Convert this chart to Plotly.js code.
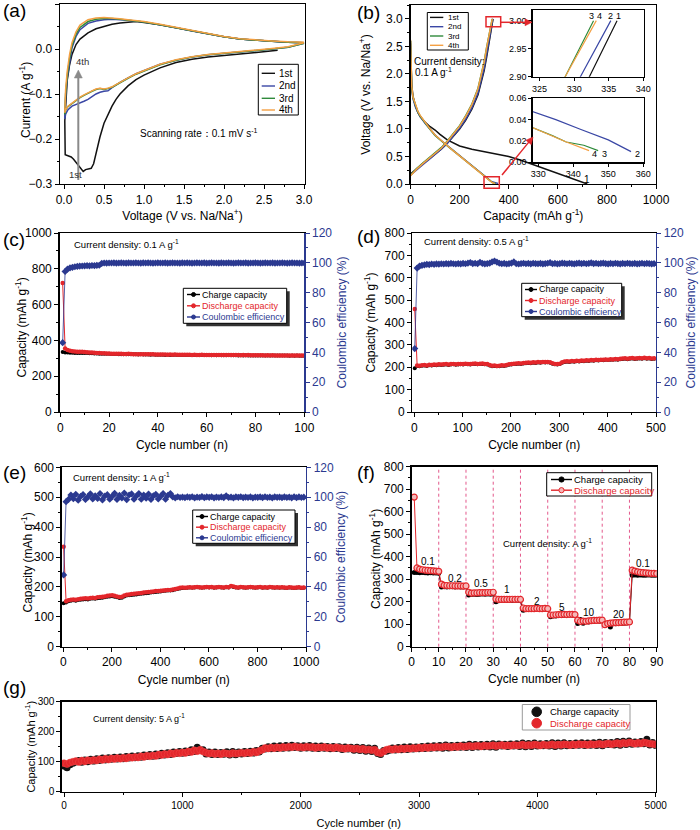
<!DOCTYPE html>
<html><head><meta charset="utf-8">
<script src="https://cdn.plot.ly/plotly-3.0.1.min.js"></script>
<style>html,body{margin:0;padding:0;background:#fff}#chart{width:700px;height:830px}</style>
</head><body><div id="chart"></div>
<script>
// ================= DATA =================
// (a) cyclic voltammetry
const cvNames = ['1st', '2nd', '3rd', '4th'];
const cvV1 = [2.67, 2.5, 2.2, 2.0, 1.8, 1.6, 1.4, 1.2, 1.1, 1.0, 0.9, 0.8, 0.7, 0.65, 0.6, 0.55, 0.5, 0.45, 0.4, 0.37, 0.34, 0.3, 0.27, 0.24, 0.21, 0.18, 0.15, 0.12, 0.09, 0.06, 0.03, 0.015, 0.01, 0.02, 0.04, 0.07, 0.1, 0.15, 0.2, 0.3, 0.4, 0.5, 0.6, 0.7, 0.8, 0.9, 1.0, 1.2, 1.4, 1.6, 1.8, 2.0, 2.2, 2.4, 2.6, 2.8, 3.0];
const cvI1 = [-0.003, -0.006, -0.01, -0.014, -0.018, -0.023, -0.03, -0.042, -0.05, -0.058, -0.068, -0.082, -0.1, -0.112, -0.127, -0.145, -0.165, -0.195, -0.23, -0.255, -0.265, -0.266, -0.268, -0.272, -0.265, -0.258, -0.252, -0.245, -0.24, -0.238, -0.237, -0.235, -0.16, -0.12, -0.07, -0.035, -0.012, 0.01, 0.022, 0.036, 0.045, 0.05, 0.055, 0.058, 0.06, 0.061, 0.059, 0.054, 0.047, 0.04, 0.033, 0.027, 0.022, 0.019, 0.017, 0.015, 0.014];
const cvV = [3.0, 2.8, 2.6, 2.4, 2.2, 2.0, 1.8, 1.6, 1.4, 1.2, 1.0, 0.9, 0.8, 0.7, 0.6, 0.55, 0.5, 0.45, 0.4, 0.35, 0.3, 0.25, 0.2, 0.15, 0.1, 0.05, 0.02, 0.01, 0.02, 0.04, 0.07, 0.1, 0.15, 0.2, 0.3, 0.4, 0.5, 0.6, 0.7, 0.8, 1.0, 1.2, 1.4, 1.6, 1.8, 2.0, 2.2, 2.4, 2.6, 2.8, 3.0];
const cvI2 = [0.013, 0.004, 0.0, -0.003, -0.006, -0.009, -0.013, -0.018, -0.025, -0.034, -0.047, -0.055, -0.064, -0.074, -0.086, -0.093, -0.094, -0.096, -0.1, -0.107, -0.112, -0.116, -0.12, -0.123, -0.127, -0.135, -0.145, -0.155, -0.11, -0.065, -0.025, 0.003, 0.028, 0.043, 0.057, 0.062, 0.065, 0.066, 0.065, 0.064, 0.06, 0.054, 0.047, 0.04, 0.033, 0.027, 0.022, 0.019, 0.017, 0.015, 0.014];
const cvI3 = [0.013, 0.004, 0.0, -0.003, -0.006, -0.009, -0.013, -0.018, -0.025, -0.035, -0.048, -0.056, -0.065, -0.075, -0.085, -0.088, -0.09, -0.088, -0.09, -0.094, -0.098, -0.103, -0.108, -0.114, -0.12, -0.128, -0.136, -0.145, -0.1, -0.06, -0.02, 0.008, 0.033, 0.048, 0.061, 0.066, 0.068, 0.068, 0.066, 0.064, 0.06, 0.054, 0.047, 0.04, 0.033, 0.027, 0.022, 0.019, 0.017, 0.015, 0.014];
const cvI4 = [0.014, 0.005, 0.001, -0.002, -0.005, -0.008, -0.012, -0.017, -0.024, -0.034, -0.047, -0.055, -0.064, -0.074, -0.084, -0.087, -0.089, -0.087, -0.089, -0.093, -0.097, -0.102, -0.107, -0.113, -0.119, -0.127, -0.135, -0.142, -0.09, -0.05, -0.012, 0.014, 0.038, 0.053, 0.065, 0.069, 0.07, 0.069, 0.067, 0.065, 0.061, 0.055, 0.048, 0.041, 0.034, 0.028, 0.023, 0.02, 0.018, 0.016, 0.015];

// (b) galvanostatic discharge / charge profiles
const disCap1 = [0, 2, 5, 10, 20, 30, 40, 60, 80, 100, 120, 150, 200, 250, 300, 350, 400, 450, 500, 550, 600, 650, 700, 720];
const disV1 = [2.6, 2.1, 1.8, 1.6, 1.42, 1.3, 1.22, 1.12, 1.04, 0.98, 0.9, 0.8, 0.69, 0.63, 0.59, 0.55, 0.5, 0.43, 0.35, 0.27, 0.19, 0.11, 0.04, 0.0];
const disCap2 = [0, 2, 5, 10, 20, 30, 40, 60, 80, 100, 125, 150, 175, 200, 225, 250, 275, 300, 315, 328, 335, 342, 350, 356.5];
const disV2 = [2.55, 2.0, 1.72, 1.55, 1.4, 1.3, 1.22, 1.1, 0.99, 0.89, 0.79, 0.70, 0.61, 0.53, 0.44, 0.35, 0.26, 0.17, 0.1, 0.048, 0.04, 0.031, 0.021, 0.01];
const disCap3 = [0, 2, 5, 10, 20, 30, 40, 60, 80, 100, 125, 150, 175, 200, 225, 250, 275, 300, 315, 328, 334, 338, 343, 347.1];
const disV3 = [2.6, 2.05, 1.75, 1.57, 1.42, 1.31, 1.23, 1.1, 0.99, 0.88, 0.78, 0.69, 0.6, 0.51, 0.42, 0.33, 0.24, 0.15, 0.085, 0.033, 0.025, 0.019, 0.016, 0.011];
const disCap4 = [0, 2, 5, 10, 20, 30, 40, 60, 80, 100, 125, 150, 175, 200, 225, 250, 275, 300, 315, 328, 333, 338, 344.5];
const disV4 = [2.62, 2.1, 1.78, 1.58, 1.43, 1.32, 1.24, 1.11, 1.0, 0.89, 0.79, 0.70, 0.6, 0.51, 0.42, 0.33, 0.24, 0.15, 0.085, 0.033, 0.026, 0.019, 0.011];
const chCap1 = [0, 10, 25, 50, 75, 100, 125, 150, 175, 200, 225, 250, 275, 290, 300, 310, 320, 332.2, 336.2];
const chV1 = [0.18, 0.22, 0.28, 0.37, 0.45, 0.54, 0.63, 0.74, 0.86, 1.0, 1.16, 1.36, 1.62, 1.86, 2.06, 2.3, 2.58, 2.9, 3.0];
const chCap2 = [0, 10, 25, 50, 75, 100, 125, 150, 175, 200, 225, 250, 275, 290, 300, 310, 320, 330.9, 335.3];
const chV2 = [0.16, 0.2, 0.26, 0.35, 0.44, 0.53, 0.63, 0.74, 0.87, 1.01, 1.18, 1.38, 1.65, 1.9, 2.1, 2.35, 2.62, 2.9, 3.0];
const chCap3 = [0, 10, 25, 50, 75, 100, 125, 150, 175, 200, 225, 250, 275, 290, 300, 310, 320, 328.7, 332.8];
const chV3 = [0.16, 0.21, 0.28, 0.38, 0.47, 0.56, 0.66, 0.78, 0.91, 1.06, 1.24, 1.45, 1.74, 2.0, 2.22, 2.48, 2.74, 2.9, 3.0];
const chCap4 = [0, 10, 25, 50, 75, 100, 125, 150, 175, 200, 225, 250, 275, 290, 300, 310, 320, 328.7, 333.2];
const chV4 = [0.15, 0.2, 0.27, 0.37, 0.46, 0.55, 0.65, 0.77, 0.9, 1.05, 1.23, 1.44, 1.73, 1.99, 2.21, 2.47, 2.73, 2.9, 3.0];

// (c) 0.1 A/g, cycles 1..100
const cCharge = [335, 333, 332, 331, 331, 330, 330, 329, 330, 329,
  329, 328, 328, 327, 327, 326, 326, 325, 325, 325,
  324, 324, 324, 323, 323, 323, 322, 323, 322, 322,
  322, 321, 322, 321, 321, 321, 320, 321, 320, 320,
  320, 320, 319, 320, 319, 319, 320, 319, 319, 319,
  319, 318, 319, 318, 318, 319, 318, 318, 318, 318,
  318, 317, 318, 317, 318, 317, 317, 317, 318, 317,
  317, 317, 316, 317, 316, 317, 316, 316, 316, 316,
  316, 316, 315, 316, 316, 315, 316, 315, 315, 315,
  315, 315, 315, 314, 315, 314, 315, 314, 314, 314];
const cDischarge = [720, 355, 346, 342, 340, 338, 337, 336, 336, 335,
  334, 333, 332, 331, 330, 329, 328, 328, 327, 327,
  326, 326, 325, 325, 325, 324, 324, 325, 324, 323,
  323, 323, 323, 322, 322, 322, 322, 322, 321, 321,
  321, 321, 321, 320, 321, 320, 321, 320, 320, 320,
  320, 320, 320, 319, 320, 319, 319, 320, 319, 319,
  319, 319, 318, 319, 319, 318, 319, 318, 318, 318,
  318, 318, 318, 317, 318, 317, 318, 317, 317, 317,
  317, 317, 317, 316, 317, 316, 317, 316, 316, 316,
  316, 316, 316, 315, 316, 315, 316, 315, 315, 315];
const cCE = [46.5, 94.2, 95.8, 96.6, 97.0, 97.4, 97.6, 97.8, 97.9, 98.0,
  98.1, 98.0, 98.2, 98.1, 98.3, 98.4, 99.6, 99.9, 99.8, 99.9,
  99.9, 100.0, 99.8, 99.9, 100.0, 99.9, 99.8, 100.0, 99.9, 99.9,
  100.0, 99.9, 99.8, 100.0, 99.9, 100.0, 99.9, 99.8, 99.9, 100.0,
  99.9, 99.9, 100.0, 99.8, 99.9, 100.0, 99.9, 99.9, 99.8, 100.0,
  99.9, 100.0, 99.9, 99.8, 99.9, 100.0, 99.9, 99.9, 100.0, 99.8,
  99.9, 100.0, 99.9, 99.9, 99.8, 100.0, 99.9, 99.9, 100.0, 99.9,
  99.8, 99.9, 100.0, 99.9, 99.9, 100.0, 99.8, 99.9, 99.9, 100.0,
  99.9, 99.8, 99.9, 100.0, 99.9, 99.9, 100.0, 99.8, 99.9, 99.9,
  100.0, 99.9, 99.8, 99.9, 100.0, 99.9, 99.9, 99.8, 99.9, 99.9];

// (d) 0.5 A/g, every 5th cycle from cycle 1
const dCharge = [196, 206, 205, 207, 208, 206, 209, 208, 210, 209,
  211, 210, 211, 212, 210, 212, 213, 211, 212, 213,
  212, 214, 213, 212, 214, 215, 213, 214, 215, 213,
  212, 208, 205, 206, 204, 205, 207, 206, 208, 211,
  212, 214, 215, 216, 215, 217, 218, 219, 218, 220,
  219, 221, 220, 222, 221, 222, 220, 216, 213, 212,
  214, 220, 224, 225, 224, 226, 225, 227, 226, 228,
  227, 229, 228, 230, 229, 231, 230, 232, 231, 233,
  232, 234, 233, 235, 234, 236, 237, 238, 236, 238,
  239, 237, 238, 239, 238, 240, 238, 239, 237, 238];
const dDischarge = [460, 208, 207, 209, 210, 208, 211, 210, 212, 211,
  213, 212, 213, 214, 212, 214, 215, 213, 214, 215,
  214, 216, 215, 214, 216, 217, 215, 216, 217, 215,
  214, 210, 207, 208, 206, 207, 209, 208, 210, 213,
  214, 216, 217, 218, 217, 219, 220, 221, 220, 222,
  221, 223, 222, 224, 223, 224, 222, 218, 215, 214,
  216, 222, 226, 227, 226, 228, 227, 229, 228, 230,
  229, 231, 230, 232, 231, 233, 232, 234, 233, 235,
  234, 236, 235, 237, 236, 238, 239, 240, 238, 240,
  241, 239, 240, 241, 240, 242, 240, 241, 239, 240];
const dCE = [42.5, 96.5, 97.8, 98.3, 98.6, 99.0, 98.8, 99.2, 99.0, 99.3,
  99.1, 99.4, 99.2, 99.5, 99.3, 99.6, 99.4, 99.2, 99.5, 99.3,
  99.6, 99.4, 99.8, 100.2, 99.5, 99.7, 99.4, 100.4, 99.6, 99.3,
  99.5, 99.8, 100.6, 101.2, 100.5, 99.7, 99.4, 99.6, 99.2, 99.5,
  99.8, 100.6, 99.4, 99.2, 99.5, 99.7, 99.4, 99.6, 99.3, 99.7,
  99.5, 99.4, 99.6, 99.3, 99.5, 99.7, 100.1, 99.4, 99.6, 99.3,
  99.5, 99.8, 99.6, 99.4, 99.7, 99.5, 99.3, 99.6, 99.8, 99.5,
  99.7, 99.4, 99.6, 100.0, 99.5, 99.7, 99.4, 99.6, 99.8, 99.5,
  99.3, 99.6, 99.4, 99.7, 99.5, 99.3, 99.6, 99.4, 99.7, 99.5,
  99.4, 99.6, 99.3, 99.5, 99.7, 99.4, 99.6, 99.5, 99.3, 99.5];

// (e) 1 A/g, every 10th cycle from cycle 1
const eCharge = [145, 148, 152, 154, 155, 154, 156, 157, 158, 159,
  158, 160, 161, 160, 162, 163, 164, 165, 167, 168,
  169, 167, 165, 163, 164, 168, 171, 172, 173, 174,
  175, 176, 177, 178, 179, 180, 181, 182, 183, 184,
  185, 186, 187, 188, 188, 189, 191, 193, 195, 196,
  196, 197, 198, 197, 198, 199, 198, 197, 198, 199,
  198, 199, 197, 198, 199, 198, 197, 199, 198, 202,
  200, 198, 197, 199, 198, 197, 198, 199, 198, 197,
  198, 199, 197, 198, 197, 199, 198, 197, 198, 197,
  198, 197, 196, 198, 197, 196, 197, 198, 196, 197];
const eDischarge = [334, 152, 155, 157, 158, 157, 159, 160, 161, 162,
  161, 163, 164, 163, 165, 166, 167, 168, 170, 171,
  172, 170, 168, 166, 167, 171, 174, 175, 176, 177,
  178, 179, 180, 181, 182, 183, 184, 185, 186, 186,
  187, 188, 189, 190, 190, 191, 193, 195, 197, 198,
  197, 198, 199, 198, 199, 200, 199, 198, 199, 200,
  199, 200, 198, 199, 200, 199, 198, 200, 199, 203,
  201, 199, 198, 200, 199, 198, 199, 200, 199, 198,
  199, 200, 198, 199, 198, 200, 199, 198, 199, 198,
  199, 198, 197, 199, 198, 197, 198, 199, 197, 198];
const eCE = [48, 97, 98.5, 101.5, 99, 102, 98, 100.5, 101.8, 98.5,
  100.2, 102.3, 98.8, 101, 99.2, 102.5, 98.2, 100.8, 101.7, 98.6,
  100.5, 102.6, 98.5, 101.2, 99.5, 102.8, 98.3, 101.5, 102.2, 98.7,
  100.8, 102.4, 98.6, 101.4, 99.3, 102.1, 98.5, 100.9, 101.9, 98.8,
  100.6, 102.5, 98.7, 101.3, 102.4, 100.2, 99.6, 100.3, 99.8, 100.1,
  99.7, 100.2, 99.9, 100.3, 99.6, 100.1, 99.8, 100.4, 99.7, 100.2,
  99.9, 100.3, 99.6, 100.1, 99.8, 100.2, 99.7, 100.9, 99.8, 100.1,
  99.6, 100.2, 99.9, 100.3, 99.7, 100.1, 99.8, 100.2, 99.6, 100.1,
  99.9, 100.2, 99.7, 100.3, 99.8, 100.1, 99.6, 100.2, 99.9, 100.1,
  99.7, 100.2, 99.8, 100.1, 99.6, 100.3, 99.7, 100.2, 99.8, 100.0];

// (f) rate capability, cycles 1..90
const rateLabels = ['0.1', '0.2', '0.5', '1', '2', '5', '10', '20', '0.1'];
const rateBounds = [10, 20, 30, 40, 50, 60, 70, 80];
const fCharge = [330, 330, 329, 330, 329, 328, 329, 328, 328, 327,
  265, 266, 265, 266, 266, 265, 266, 265, 265, 266,
  230, 232, 233, 232, 233, 234, 233, 234, 233, 234,
  200, 204, 205, 205, 205, 206, 205, 206, 206, 205,
  162, 166, 166, 167, 166, 167, 167, 166, 167, 167,
  133, 136, 137, 140, 139, 140, 140, 141, 140, 140,
  103, 121, 104, 115, 110, 114, 112, 116, 113, 115,
  95, 103, 88, 104, 102, 104, 103, 104, 105, 106,
  318, 319, 318, 319, 318, 318, 319, 318, 318, 318];
const fDischarge = [665, 350, 345, 342, 340, 339, 338, 337, 336, 335,
  278, 273, 272, 271, 271, 270, 270, 270, 269, 270,
  242, 238, 239, 239, 240, 240, 240, 241, 241, 242,
  212, 210, 210, 210, 210, 210, 211, 210, 211, 210,
  172, 169, 169, 169, 169, 170, 169, 169, 170, 169,
  141, 141, 142, 143, 143, 144, 143, 144, 144, 143,
  118, 112, 114, 113, 115, 116, 117, 117, 118, 118,
  98, 103, 105, 106, 107, 107, 108, 109, 109, 110,
  340, 336, 333, 330, 329, 328, 327, 326, 326, 325];

// (g) 5 A/g, every 25th cycle from 0 to 5000
const gCharge = [85, 80, 90, 95, 99, 104, 98, 106, 100, 108,
  102, 110, 104, 112, 106, 113, 108, 115, 109, 116,
  110, 117, 112, 119, 113, 120, 115, 122, 117, 124,
  118, 126, 120, 128, 122, 130, 124, 132, 127, 134,
  128, 136, 131, 140, 134, 148, 137, 140, 126, 132,
  124, 132, 124, 131, 125, 133, 122, 134, 123, 132,
  126, 134, 127, 135, 129, 137, 132, 145, 142, 150,
  143, 152, 144, 153, 145, 154, 146, 155, 147, 153,
  145, 153, 146, 154, 145, 152, 144, 152, 145, 151,
  143, 151, 144, 150, 141, 149, 142, 148, 138, 148,
  137, 147, 135, 146, 134, 145, 127, 124, 137, 135,
  138, 146, 139, 147, 140, 149, 141, 150, 142, 149,
  143, 151, 144, 152, 145, 153, 146, 154, 145, 156,
  146, 154, 147, 155, 148, 156, 147, 158, 147, 157,
  149, 157, 150, 158, 149, 160, 148, 159, 152, 158,
  151, 159, 152, 160, 151, 162, 150, 161, 151, 162,
  152, 160, 153, 161, 152, 163, 151, 162, 152, 163,
  153, 161, 154, 162, 155, 163, 154, 162, 155, 163,
  154, 165, 153, 164, 157, 164, 156, 167, 155, 168,
  157, 169, 158, 166, 159, 167, 160, 175, 156, 164,
  154];
const gDischarge = [95, 92, 97, 100, 102, 99, 104, 101, 105, 103,
  106, 104, 108, 106, 110, 107, 111, 109, 112, 110,
  113, 111, 115, 113, 116, 114, 118, 116, 120, 118,
  121, 119, 124, 122, 126, 124, 128, 126, 130, 128,
  131, 129, 134, 132, 138, 135, 140, 134, 130, 127,
  129, 126, 128, 125, 129, 127, 126, 129, 127, 128,
  130, 128, 131, 129, 133, 131, 136, 140, 146, 144,
  147, 145, 148, 146, 149, 147, 150, 148, 151, 148,
  149, 147, 150, 148, 149, 146, 148, 147, 149, 146,
  147, 145, 148, 146, 145, 143, 146, 144, 142, 144,
  141, 143, 139, 141, 138, 140, 131, 128, 134, 140,
  142, 140, 143, 141, 144, 142, 145, 143, 146, 144,
  147, 145, 148, 146, 149, 147, 150, 148, 149, 151,
  150, 148, 151, 149, 152, 150, 151, 153, 151, 152,
  153, 151, 154, 152, 153, 155, 152, 154, 156, 153,
  155, 153, 156, 154, 155, 157, 154, 156, 155, 157,
  156, 154, 157, 155, 156, 158, 155, 157, 156, 158,
  157, 155, 158, 156, 159, 157, 158, 156, 159, 157,
  158, 160, 157, 159, 161, 158, 160, 162, 159, 163,
  161, 164, 162, 160, 163, 161, 164, 162, 160, 159,
  158];

// ================= STYLE / HELPERS =================
const W = 700, H = 830;
const px = v => v / W;
const py = v => 1 - v / H;
const FONT = 'Liberation Sans, Arial, sans-serif';
const RED = '#E3262B', NAVY = '#2B3990', PINK = '#F6B7B7';
const cvColors = ['#111111', '#3A47A5', '#2F8A3B', '#F4A043'];

function axis(o) {
  const c = o.color || '#000';
  const a = {
    domain: o.domain, range: o.range, anchor: o.anchor,
    showline: true, linecolor: c, linewidth: 1.3,
    mirror: o.mirror === undefined ? true : o.mirror,
    ticks: 'outside', ticklen: o.ticklen || 4, tickwidth: 1, tickcolor: c,
    tickmode: 'linear', tick0: o.tick0 || 0, dtick: o.dtick,
    tickfont: {family: FONT, size: o.fs || 12, color: c},
    showgrid: false, zeroline: false, fixedrange: true
  };
  if (o.title) {
    a.title = {text: o.title, font: {family: FONT, size: o.tfs || 12, color: c}};
    if (o.standoff !== undefined) a.title.standoff = o.standoff;
  }
  if (o.minor) a.minor = {dtick: o.minor, tick0: o.tick0 || 0, ticks: 'outside', ticklen: 2, tickwidth: 1, tickcolor: c};
  if (o.tickformat) a.tickformat = o.tickformat;
  if (o.side) a.side = o.side;
  if (o.overlaying) a.overlaying = o.overlaying;
  return a;
}

const ann = [];
const shp = [];
function txt(text, x, y, o = {}) {
  ann.push({
    xref: o.xref || 'paper', yref: o.yref || 'paper',
    x: o.xref ? x : px(x), y: o.yref ? y : py(y),
    text: text, showarrow: false, xanchor: o.xanchor || 'left', yanchor: 'middle', borderpad: 0,
    textangle: o.angle || 0,
    font: {family: FONT, size: o.size || 10, color: o.color || '#000'}
  });
}
function legendBox(box, rows, o) {
  const [x0, y0, x1, y1] = box;
  if (o.shadow) shp.push({type: 'rect', xref: 'paper', yref: 'paper', x0: px(x0 + 3), x1: px(x1 + 3), y0: py(y1 + 3), y1: py(y0 + 3), fillcolor: '#333', line: {width: 0}, layer: 'above'});
  shp.push({type: 'rect', xref: 'paper', yref: 'paper', x0: px(x0), x1: px(x1), y0: py(y1), y1: py(y0), fillcolor: '#fff', line: {color: o.border || '#000', width: 1}, layer: 'above'});
  rows.forEach(r => {
    if (o.sample) shp.push({type: 'line', xref: 'paper', yref: 'paper', x0: px(o.sample[0]), x1: px(o.sample[1]), y0: py(r.yc), y1: py(r.yc), line: {color: r.color, width: 1.4}, layer: 'above'});
    if (o.mr) shp.push({type: 'circle', xref: 'paper', yref: 'paper', x0: px(o.mx - o.mr), x1: px(o.mx + o.mr), y0: py(r.yc + o.mr), y1: py(r.yc - o.mr), fillcolor: r.fill || r.color, line: {color: r.color, width: 1}, layer: 'above'});
    txt(r.text, o.tx, r.yc, {size: o.size, color: r.tcolor || '#000'});
  });
}
// arrow drawn as shapes, in pixel coordinates of the page
function arrowPx(x0, y0, x1, y1, color, width, head) {
  const dx = x1 - x0, dy = y1 - y0, L = Math.hypot(dx, dy);
  const ux = dx / L, uy = dy / L;
  const bx = x1 - ux * head, by = y1 - uy * head;
  const hw = head * 0.5;
  shp.push({type: 'line', xref: 'paper', yref: 'paper', x0: px(x0), y0: py(y0), x1: px(bx + ux), y1: py(by + uy), line: {color: color, width: width}, layer: 'above'});
  const p = (a, b) => px(a) + ',' + py(b);
  shp.push({type: 'path', xref: 'paper', yref: 'paper', path: 'M' + p(x1, y1) + 'L' + p(bx - uy * hw, by + ux * hw) + 'L' + p(bx + uy * hw, by - ux * hw) + 'Z', fillcolor: color, line: {color: color, width: 0.5}, layer: 'above'});
}

// ================= TRACES =================
const traces = [];
// (a)
traces.push({x: cvV1, y: cvI1, xaxis: 'x', yaxis: 'y', mode: 'lines', line: {color: cvColors[0], width: 1.5}, name: cvNames[0]});
[cvI2, cvI3, cvI4].forEach((arr, i) => traces.push({x: cvV, y: arr, xaxis: 'x', yaxis: 'y', mode: 'lines', line: {color: cvColors[i + 1], width: 1.5}, name: cvNames[i + 1]}));
// (b) main + insets
const disC = [disCap1, disCap2, disCap3, disCap4], disVv = [disV1, disV2, disV3, disV4];
const chC = [chCap1, chCap2, chCap3, chCap4], chVv = [chV1, chV2, chV3, chV4];
for (let i = 0; i < 4; i++) {
  traces.push({x: disC[i], y: disVv[i], xaxis: 'x2', yaxis: 'y2', mode: 'lines', line: {color: cvColors[i], width: 1.5}, name: cvNames[i]});
  traces.push({x: chC[i], y: chVv[i], xaxis: 'x2', yaxis: 'y2', mode: 'lines', line: {color: cvColors[i], width: 1.5}, name: cvNames[i]});
}
for (let i = 0; i < 4; i++) traces.push({x: chC[i], y: chVv[i], xaxis: 'x3', yaxis: 'y3', mode: 'lines', line: {color: cvColors[i], width: 1.2}, name: cvNames[i]});
for (let i = 1; i < 4; i++) traces.push({x: disC[i], y: disVv[i], xaxis: 'x4', yaxis: 'y4', mode: 'lines', line: {color: cvColors[i], width: 1.2}, name: cvNames[i]});
// (c)(d)(e)
function cycPanel(xa, ya, yb, x0, dx, ch, dis, ce) {
  traces.push({x0: x0, dx: dx, y: ch, xaxis: xa, yaxis: ya, mode: 'lines+markers', line: {color: '#000', width: 1}, marker: {color: '#000', size: 4}, name: 'Charge capacity'});
  traces.push({x0: x0, dx: dx, y: dis, xaxis: xa, yaxis: ya, mode: 'lines+markers', line: {color: RED, width: 1}, marker: {color: RED, size: 4.5}, name: 'Discharge capacity'});
  traces.push({x0: x0, dx: dx, y: ce, xaxis: xa, yaxis: yb, mode: 'lines+markers', line: {color: NAVY, width: 0.8}, marker: {color: NAVY, size: 5.5, symbol: 'diamond'}, name: 'Coulombic efficiency'});
}
cycPanel('x5', 'y5', 'y6', 1, 1, cCharge, cDischarge, cCE);
cycPanel('x6', 'y7', 'y8', 1, 5, dCharge, dDischarge, dCE);
cycPanel('x7', 'y9', 'y10', 1, 10, eCharge, eDischarge, eCE);
// (f)
traces.push({x0: 1, dx: 1, y: fCharge, xaxis: 'x8', yaxis: 'y11', mode: 'lines+markers', line: {color: '#000', width: 1}, marker: {color: '#000', size: 5}, name: 'Charge capacity'});
traces.push({x0: 1, dx: 1, y: fDischarge, xaxis: 'x8', yaxis: 'y11', mode: 'lines+markers', line: {color: RED, width: 1}, marker: {color: PINK, size: 6, line: {color: RED, width: 1.2}}, name: 'Discharge capacity'});
// (g)
traces.push({x0: 0, dx: 25, y: gCharge, xaxis: 'x9', yaxis: 'y12', mode: 'markers', marker: {color: '#111', size: 7}, name: 'Charge capacity'});
traces.push({x0: 0, dx: 25, y: gDischarge, xaxis: 'x9', yaxis: 'y12', mode: 'markers', marker: {color: RED, size: 7, line: {color: '#F04848', width: 0.5}}, name: 'Discharge capacity'});

// ================= LAYOUT =================
const layout = {
  width: W, height: H, margin: {l: 0, r: 0, t: 0, b: 0},
  paper_bgcolor: '#fff', plot_bgcolor: '#fff', showlegend: false,
  font: {family: FONT, size: 12, color: '#000'},
  // (a)
  xaxis: axis({domain: [px(60), px(305)], range: [-0.05, 3.012], anchor: 'y', dtick: 0.5, minor: 0.25, tickformat: '.1f', title: 'Voltage (V vs. Na/Na<sup>+</sup>)', standoff: 4}),
  yaxis: axis({domain: [py(184), py(4)], range: [-0.3, 0.1], anchor: 'x', dtick: 0.1, tick0: -0.3, minor: 0.05, tickformat: '.1f'}),
  // (b)
  xaxis2: axis({domain: [px(410.5), px(656)], range: [0, 1000], anchor: 'y2', dtick: 200, minor: 100, title: 'Capacity (mAh g<sup>-1</sup>)', standoff: 2}),
  yaxis2: axis({domain: [py(184), py(5)], range: [0, 3.25], anchor: 'x2', dtick: 0.5, minor: 0.25, tickformat: '.1f', title: 'Voltage (V vs. Na/Na<sup>+</sup>)', standoff: 13}),
  xaxis3: axis({domain: [px(532.7), px(644)], range: [324, 340.1], anchor: 'y3', dtick: 5, tick0: 325, fs: 9, ticklen: 3}),
  yaxis3: axis({domain: [py(76.7), py(10)], range: [2.9, 3.019], anchor: 'x3', dtick: 0.05, tick0: 2.9, tickformat: '.2f', fs: 9, ticklen: 3}),
  xaxis4: axis({domain: [px(532.7), px(644)], range: [328.4, 360.2], anchor: 'y4', dtick: 10, tick0: 330, fs: 9, ticklen: 3}),
  yaxis4: axis({domain: [py(162.3), py(98.3)], range: [0, 0.06], anchor: 'x4', dtick: 0.02, tickformat: '.2f', fs: 9, ticklen: 3}),
  // (c)
  xaxis5: axis({domain: [px(59.5), px(304.3)], range: [-0.3, 100], anchor: 'y5', dtick: 20, minor: 10, title: 'Cycle number (n)', standoff: 7}),
  yaxis5: axis({domain: [py(412), py(233)], range: [0, 1000], anchor: 'x5', dtick: 200, minor: 100, mirror: false}),
  yaxis6: axis({domain: [py(412), py(233)], range: [0, 120], anchor: 'x5', overlaying: 'y5', side: 'right', dtick: 20, minor: 10, mirror: false, color: NAVY, title: 'Coulombic efficiency (%)', standoff: 6}),
  // (d)
  xaxis6: axis({domain: [px(412.3), px(656)], range: [-4, 500], anchor: 'y7', dtick: 100, minor: 50, title: 'Cycle number (n)', standoff: 7}),
  yaxis7: axis({domain: [py(412), py(233)], range: [0, 800], anchor: 'x6', dtick: 100, minor: 50, mirror: false, title: 'Capacity (mAh g<sup>-1</sup>)', standoff: 6}),
  yaxis8: axis({domain: [py(412), py(233)], range: [0, 120], anchor: 'x6', overlaying: 'y7', side: 'right', dtick: 20, minor: 10, mirror: false, color: NAVY, title: 'Coulombic efficiency (%)', standoff: 3}),
  // (e)
  xaxis7: axis({domain: [px(61.7), px(306)], range: [-7, 1000], anchor: 'y9', dtick: 200, minor: 100, title: 'Cycle number (n)', standoff: 7}),
  yaxis9: axis({domain: [py(646.7), py(467.3)], range: [0, 600], anchor: 'x7', dtick: 100, minor: 50, mirror: false}),
  yaxis10: axis({domain: [py(646.7), py(467.3)], range: [0, 120], anchor: 'x7', overlaying: 'y9', side: 'right', dtick: 20, minor: 10, mirror: false, color: NAVY, title: 'Coulombic efficiency (%)', standoff: 3}),
  // (f)
  xaxis8: axis({domain: [px(411.5), px(656.7)], range: [0, 90], anchor: 'y11', dtick: 10, minor: 5, title: 'Cycle number (n)', standoff: 6}),
  yaxis11: axis({domain: [py(646.7), py(466.7)], range: [0, 800], anchor: 'x8', dtick: 100, minor: 50}),
  // (g)
  xaxis9: axis({domain: [px(61.7), px(655.7)], range: [-20, 5000], anchor: 'y12', dtick: 1000, minor: 500, fs: 10, tfs: 11, title: 'Cycle number (n)', standoff: 9}),
  yaxis12: axis({domain: [py(791.7), py(701.7)], range: [0, 300], anchor: 'x9', dtick: 100, minor: 50, fs: 10, tfs: 11, title: 'Capacity (mAh g<sup>-1</sup>)', standoff: 0})
};

// y-axis titles that sit closer to their tick labels than Plotly's standoff allows
txt('Current (A g<sup>-1</sup>)', 25, 100, {angle: -90, xanchor: 'center', size: 12});
txt('Capacity (mAh g<sup>-1</sup>)', 20.5, 328, {angle: -90, xanchor: 'center', size: 12});
txt('Capacity (mAh g<sup>-1</sup>)', 26.5, 563, {angle: -90, xanchor: 'center', size: 12});
txt('Capacity (mAh g<sup>-1</sup>)', 375, 559, {angle: -90, xanchor: 'center', size: 12});

// panel labels
[['(a)', 2, 11], ['(b)', 356, 12], ['(c)', 1.5, 239], ['(d)', 356, 236], ['(e)', 1.5, 472], ['(f)', 356, 472], ['(g)', 1.5, 687]].forEach(l => txt(l[0], l[1], l[2], {size: 19}));

// (a) notes
txt('Scanning rate：0.1 mV s<sup>-1</sup>', 139, 133, {size: 10});
arrowPx(78.3, 180, 78.3, 70, '#8a8a8a', 2, 8);
txt('4th', 75, 62, {size: 9.5, color: '#333'});
txt('1st', 68, 175, {size: 9.5, color: '#333'});
legendBox([258.3, 64.3, 298.3, 115], cvNames.map((n, i) => ({text: n, yc: [73.3, 86, 98.3, 110][i], color: cvColors[i]})), {sample: [261.7, 275], tx: 277.5, size: 10});

// (b) notes
txt('Current density:', 412.5, 62, {size: 10});
txt('0.1 A g<sup>-1</sup>', 413.5, 72.5, {size: 10});
txt('1', 717, 0.09, {xref: 'x2', yref: 'y2', size: 10, xanchor: 'center'});
legendBox([427.3, 12.5, 468.3, 50], cvNames.map((n, i) => ({text: n, yc: [17.4, 26.7, 36.0, 45.3][i], color: cvColors[i]})), {sample: [430, 443.3], tx: 447, size: 8});
[['3', 332.5], ['4', 333.6], ['2', 335.3], ['1', 336.4]].forEach(l => txt(l[0], l[1], 3.0085, {xref: 'x3', yref: 'y3', size: 9, xanchor: 'center'}));
[['4', 346.1], ['3', 349.0], ['2', 358.3]].forEach(l => txt(l[0], l[1], 0.0075, {xref: 'x4', yref: 'y4', size: 9, xanchor: 'center'}));
shp.push({type: 'rect', xref: 'paper', yref: 'paper', x0: px(486), x1: px(500.7), y0: py(26.7), y1: py(16.7), line: {color: RED, width: 1.5}, layer: 'above'});
shp.push({type: 'rect', xref: 'paper', yref: 'paper', x0: px(484), x1: px(499.3), y0: py(188.3), y1: py(176.7), line: {color: RED, width: 1.5}, layer: 'above'});
arrowPx(500.7, 22.3, 532, 22.3, RED, 1.5, 7);
arrowPx(502, 175, 533, 137, RED, 1.5, 7);

// (c)(d)(e) notes and legends
const cycRows = ys => [
  {text: 'Charge capacity', yc: ys[0], color: '#000', tcolor: '#000'},
  {text: 'Discharge capacity', yc: ys[1], color: RED, tcolor: RED},
  {text: 'Coulombic efficiency', yc: ys[2], color: NAVY, tcolor: NAVY}];
txt('Current density: 0.1 A g<sup>-1</sup>', 73, 244.3, {size: 9.5});
legendBox([183.3, 288.3, 286.7, 323.3], cycRows([294.5, 305.8, 317]), {shadow: true, sample: [187, 200], mx: 193.5, mr: 2, tx: 201, size: 9});
txt('Current density: 0.5 A g<sup>-1</sup>', 422.7, 241, {size: 9.5});
legendBox([521.7, 283.3, 621.7, 316.7], cycRows([289.5, 300.5, 311.5]), {shadow: true, sample: [525, 537], mx: 531, mr: 2, tx: 538, size: 9});
txt('Current density: 1 A g<sup>-1</sup>', 71.7, 476.7, {size: 9.5});
legendBox([192.7, 510, 295, 543.3], cycRows([516.5, 527.2, 537.8]), {shadow: true, sample: [196, 208], mx: 202, mr: 2, tx: 209, size: 9});

// (f) notes
rateBounds.forEach(b => shp.push({type: 'line', xref: 'x8', yref: 'paper', x0: b, x1: b, y0: py(646.7), y1: py(466.7), line: {color: '#E0457E', width: 0.9, dash: 'dot'}, layer: 'below'}));
const ratePos = [[6.1, 378], [15.9, 305], [25.5, 280], [34.9, 253], [46.1, 200], [55.3, 175], [65.2, 151], [76.2, 141], [85.1, 368]];
rateLabels.forEach((l, i) => txt(l, ratePos[i][0], ratePos[i][1], {xref: 'x8', yref: 'y11', size: 10, xanchor: 'center'}));
txt('Current density: A g<sup>-1</sup>', 501.7, 543.3, {size: 9.5});
legendBox([546.7, 472.7, 651.7, 496], [
  {text: 'Charge capacity', yc: 479.5, color: '#000', fill: '#000', tcolor: '#000'},
  {text: 'Discharge capacity', yc: 490.2, color: RED, fill: PINK, tcolor: RED}], {sample: [551, 572], mx: 561.5, mr: 2.6, tx: 573, size: 9.5});

// (g) notes
txt('Current density: 5 A g<sup>-1</sup>', 91.7, 718.3, {size: 9});
legendBox([522.3, 704.5, 630, 730], [
  {text: 'Charge capacity', yc: 711.8, color: '#111', tcolor: '#000'},
  {text: 'Discharge capacity', yc: 723.2, color: RED, tcolor: RED}], {border: '#999', mx: 536.7, mr: 4.8, tx: 548.5, size: 9.5});

layout.annotations = ann;
layout.shapes = shp;

Plotly.newPlot('chart', traces, layout, {staticPlot: true, displayModeBar: false});
</script></body></html>
